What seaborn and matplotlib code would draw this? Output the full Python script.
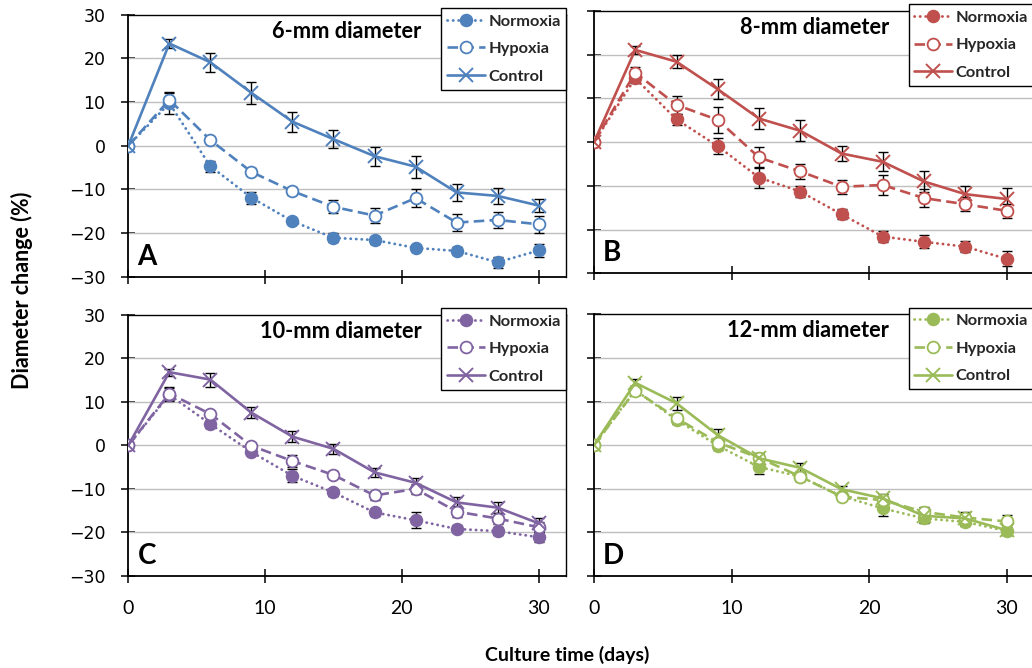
import matplotlib
matplotlib.use("Agg")
import matplotlib.pyplot as plt
import seaborn as sns

sns.set_theme(style="ticks")
plt.rcParams["font.family"] = ["Lato", "DejaVu Sans"]

# Culture time points (days)
days = [0, 3, 6, 9, 12, 15, 18, 21, 24, 27, 30]
conditions = ["Normoxia", "Hypoxia", "Control"]

# 6-mm diameter scaffolds: mean diameter change (%) and SD
norm_6 = [0, 9.7, -4.7, -11.9, -17.3, -21.1, -21.6, -23.4, -24.1, -26.7, -24.0]
hyp_6 = [0, 10.5, 1.3, -6.0, -10.4, -14.0, -16.0, -12.0, -17.6, -17.0, -18.0]
ctrl_6 = [0, 23.4, 19.1, 12.1, 5.5, 1.5, -2.4, -4.8, -10.7, -11.5, -13.7]
norm_6_sd = [0, 2.5, 1.3, 1.4, 0.6, 1.0, 0.8, 0.6, 0.8, 1.2, 1.6]
hyp_6_sd = [0, 1.5, 0.6, 0.8, 1.0, 1.5, 1.8, 2.0, 2.0, 1.9, 2.0]
ctrl_6_sd = [0, 1.0, 2.2, 2.6, 2.3, 2.0, 2.2, 2.5, 1.9, 1.9, 1.5]

# 8-mm diameter
norm_8 = [0, 14.6, 5.2, -0.9, -8.1, -11.3, -16.5, -21.6, -22.8, -23.9, -26.7]
hyp_8 = [0, 15.9, 8.5, 5.1, -3.5, -6.7, -10.2, -9.8, -12.8, -14.2, -15.7]
ctrl_8 = [0, 21.1, 18.4, 12.1, 5.4, 2.6, -2.6, -4.5, -9.0, -11.9, -13.0]
norm_8_sd = [0, 1.0, 1.3, 1.8, 2.4, 1.2, 1.1, 1.2, 1.5, 1.2, 1.7]
hyp_8_sd = [0, 1.2, 2.0, 3.0, 2.4, 1.7, 1.6, 2.2, 2.0, 1.6, 1.6]
ctrl_8_sd = [0, 1.0, 1.5, 2.3, 2.5, 2.4, 1.8, 2.2, 2.3, 1.8, 2.4]

# 10-mm diameter
norm_10 = [0, 11.6, 4.9, -1.5, -7.0, -10.8, -15.4, -17.2, -19.2, -19.7, -21.1]
hyp_10 = [0, 11.9, 7.2, -0.1, -3.6, -6.8, -11.5, -10.0, -15.2, -16.8, -18.8]
ctrl_10 = [0, 16.8, 15.1, 7.5, 2.0, -0.8, -6.2, -8.6, -13.1, -14.3, -17.9]
norm_10_sd = [0, 1.5, 1.0, 0.8, 1.5, 0.8, 0.8, 1.8, 0.8, 1.0, 1.2]
hyp_10_sd = [0, 1.5, 0.8, 0.6, 1.3, 0.8, 1.0, 1.2, 1.3, 1.2, 1.2]
ctrl_10_sd = [0, 0.8, 1.6, 1.2, 1.2, 1.2, 1.0, 1.2, 1.2, 1.3, 1.2]

# 12-mm diameter
norm_12 = [0, 12.6, 5.8, -0.1, -5.0, -7.2, -11.7, -14.5, -16.8, -17.6, -19.7]
hyp_12 = [0, 12.5, 6.2, 0.6, -2.9, -7.2, -11.8, -12.6, -15.3, -16.6, -17.5]
ctrl_12 = [0, 14.3, 9.6, 2.3, -3.0, -5.2, -10.1, -12.2, -16.2, -16.8, -19.5]
norm_12_sd = [0, 1.0, 1.0, 1.0, 1.5, 1.0, 0.8, 1.7, 1.0, 1.0, 1.0]
hyp_12_sd = [0, 1.0, 1.0, 1.0, 1.0, 1.0, 0.8, 1.0, 1.2, 1.2, 1.5]
ctrl_12_sd = [0, 0.8, 1.5, 1.3, 1.0, 1.0, 0.8, 1.0, 1.2, 1.2, 1.2]

titles = ["6-mm diameter", "8-mm diameter", "10-mm diameter", "12-mm diameter"]
letters = ["A", "B", "C", "D"]
colors = ["#4F81BD", "#C0504D", "#8064A2", "#9BBB59"]
y_ticks = [-30, -20, -10, 0, 10, 20, 30]
x_ticks = [0, 10, 20, 30]

panel_means = [(norm_6, hyp_6, ctrl_6), (norm_8, hyp_8, ctrl_8),
               (norm_10, hyp_10, ctrl_10), (norm_12, hyp_12, ctrl_12)]
panel_sds = [(norm_6_sd, hyp_6_sd, ctrl_6_sd), (norm_8_sd, hyp_8_sd, ctrl_8_sd),
             (norm_10_sd, hyp_10_sd, ctrl_10_sd), (norm_12_sd, hyp_12_sd, ctrl_12_sd)]

W, H = 1032, 668
fig = plt.figure(figsize=(W / 100, H / 100), dpi=100)


def rect(left, right, top, bottom):
    return [left / W, 1 - bottom / H, (right - left) / W, (bottom - top) / H]


boxes = [rect(128.3, 566, 14.7, 276.7), rect(594, 1034, 11, 273.3),
         rect(128.3, 566, 314.7, 576), rect(594, 1034, 314.3, 576)]

# line / marker look for each condition
styles = {
    "Normoxia": dict(linestyle=(0, (0.1, 1.9)), dash_capstyle="round", marker="o",
                     markersize=8.5, fill=True, lw=2.0, mew=1.2),
    "Hypoxia": dict(linestyle=(0, (4.0, 2.0)), dash_capstyle="butt", marker="o",
                    markersize=8.5, fill=False, lw=1.9, mew=1.3),
    "Control": dict(linestyle="-", dash_capstyle="butt", marker="x",
                    markersize=9.5, fill=True, lw=1.9, mew=1.4),
}

for i in range(4):
    ax = fig.add_axes(boxes[i])
    col = colors[i]
    for j, cond in enumerate(conditions):
        st = styles[cond]
        vals = panel_means[i][j]
        sds = panel_sds[i][j]
        keep = [k for k in range(len(days)) if sds[k] > 0]
        ax.errorbar([days[k] for k in keep], [vals[k] for k in keep],
                    yerr=[sds[k] for k in keep], fmt="none", ecolor="black",
                    elinewidth=1.0, capsize=3.5, capthick=1.0, zorder=2)
        sns.lineplot(x=days, y=vals, ax=ax, color=col, errorbar=None,
                     linestyle=st["linestyle"], dash_capstyle=st["dash_capstyle"],
                     linewidth=st["lw"], marker=st["marker"],
                     markersize=st["markersize"],
                     markerfacecolor=col if st["fill"] else "white",
                     markeredgecolor=col, markeredgewidth=st["mew"],
                     label=cond, zorder=3 + j)

    ax.set_xlim(0, 32)
    ax.set_ylim(-30, 30)
    ax.set_xticks(x_ticks)
    ax.set_yticks(y_ticks)
    ax.grid(False)
    for yv in y_ticks[1:-1]:
        ax.axhline(yv, color="#BFBFBF", lw=1.0, zorder=1)
    for sp in ax.spines.values():
        sp.set_visible(True)
        sp.set_color("black")
        sp.set_linewidth(1.0)
    ax.spines["left"].set_linewidth(1.3)
    ax.spines["bottom"].set_linewidth(1.3)
    ax.tick_params(axis="both", direction="inout", length=10, width=1.1,
                   color="black", top=False, right=False)
    ax.tick_params(axis="y", pad=11.5, labelsize=12.5, labelcolor="black")
    ax.tick_params(axis="x", pad=12, labelsize=14, labelcolor="black")
    for lab in ax.get_yticklabels():
        lab.set_fontfamily("DejaVu Sans")
    ax.set_xlabel("")
    ax.set_ylabel("")
    if i in (0, 1):
        ax.tick_params(axis="x", labelbottom=False)
    if i in (1, 3):
        ax.tick_params(axis="y", labelleft=False)

    ax.text(0.67, 0.912, titles[i], transform=ax.transAxes, ha="right",
            va="baseline", fontsize=15.7, fontweight="bold", color="black", zorder=6)
    ax.text(0.021, 0.045, letters[i], transform=ax.transAxes, ha="left",
            va="baseline", fontsize=20, fontweight="bold", color="black", zorder=6)

    handles, labels = ax.get_legend_handles_labels()
    leg = ax.legend(handles, labels, loc="upper left", bbox_to_anchor=(0.715, 1.025),
                    borderaxespad=0, frameon=True, fancybox=False, edgecolor="black",
                    framealpha=1, prop={"family": "Lato", "weight": "bold", "size": 11.8},
                    handlelength=2.3, handletextpad=0.2, borderpad=0.36,
                    labelspacing=0.8, numpoints=1)
    leg.get_frame().set_linewidth(1.0)
    leg.set_zorder(10)

fig.text(22 / W, 1 - 290 / H, "Diameter change (%)", rotation=90, ha="center",
         va="center", fontsize=15.5, fontweight="bold", color="black")
fig.text(567 / W, 1 - 655 / H, "Culture time (days)", ha="center", va="center",
         fontsize=14, fontweight="bold", color="black")

fig.savefig("out.png", dpi=100, facecolor="white")
